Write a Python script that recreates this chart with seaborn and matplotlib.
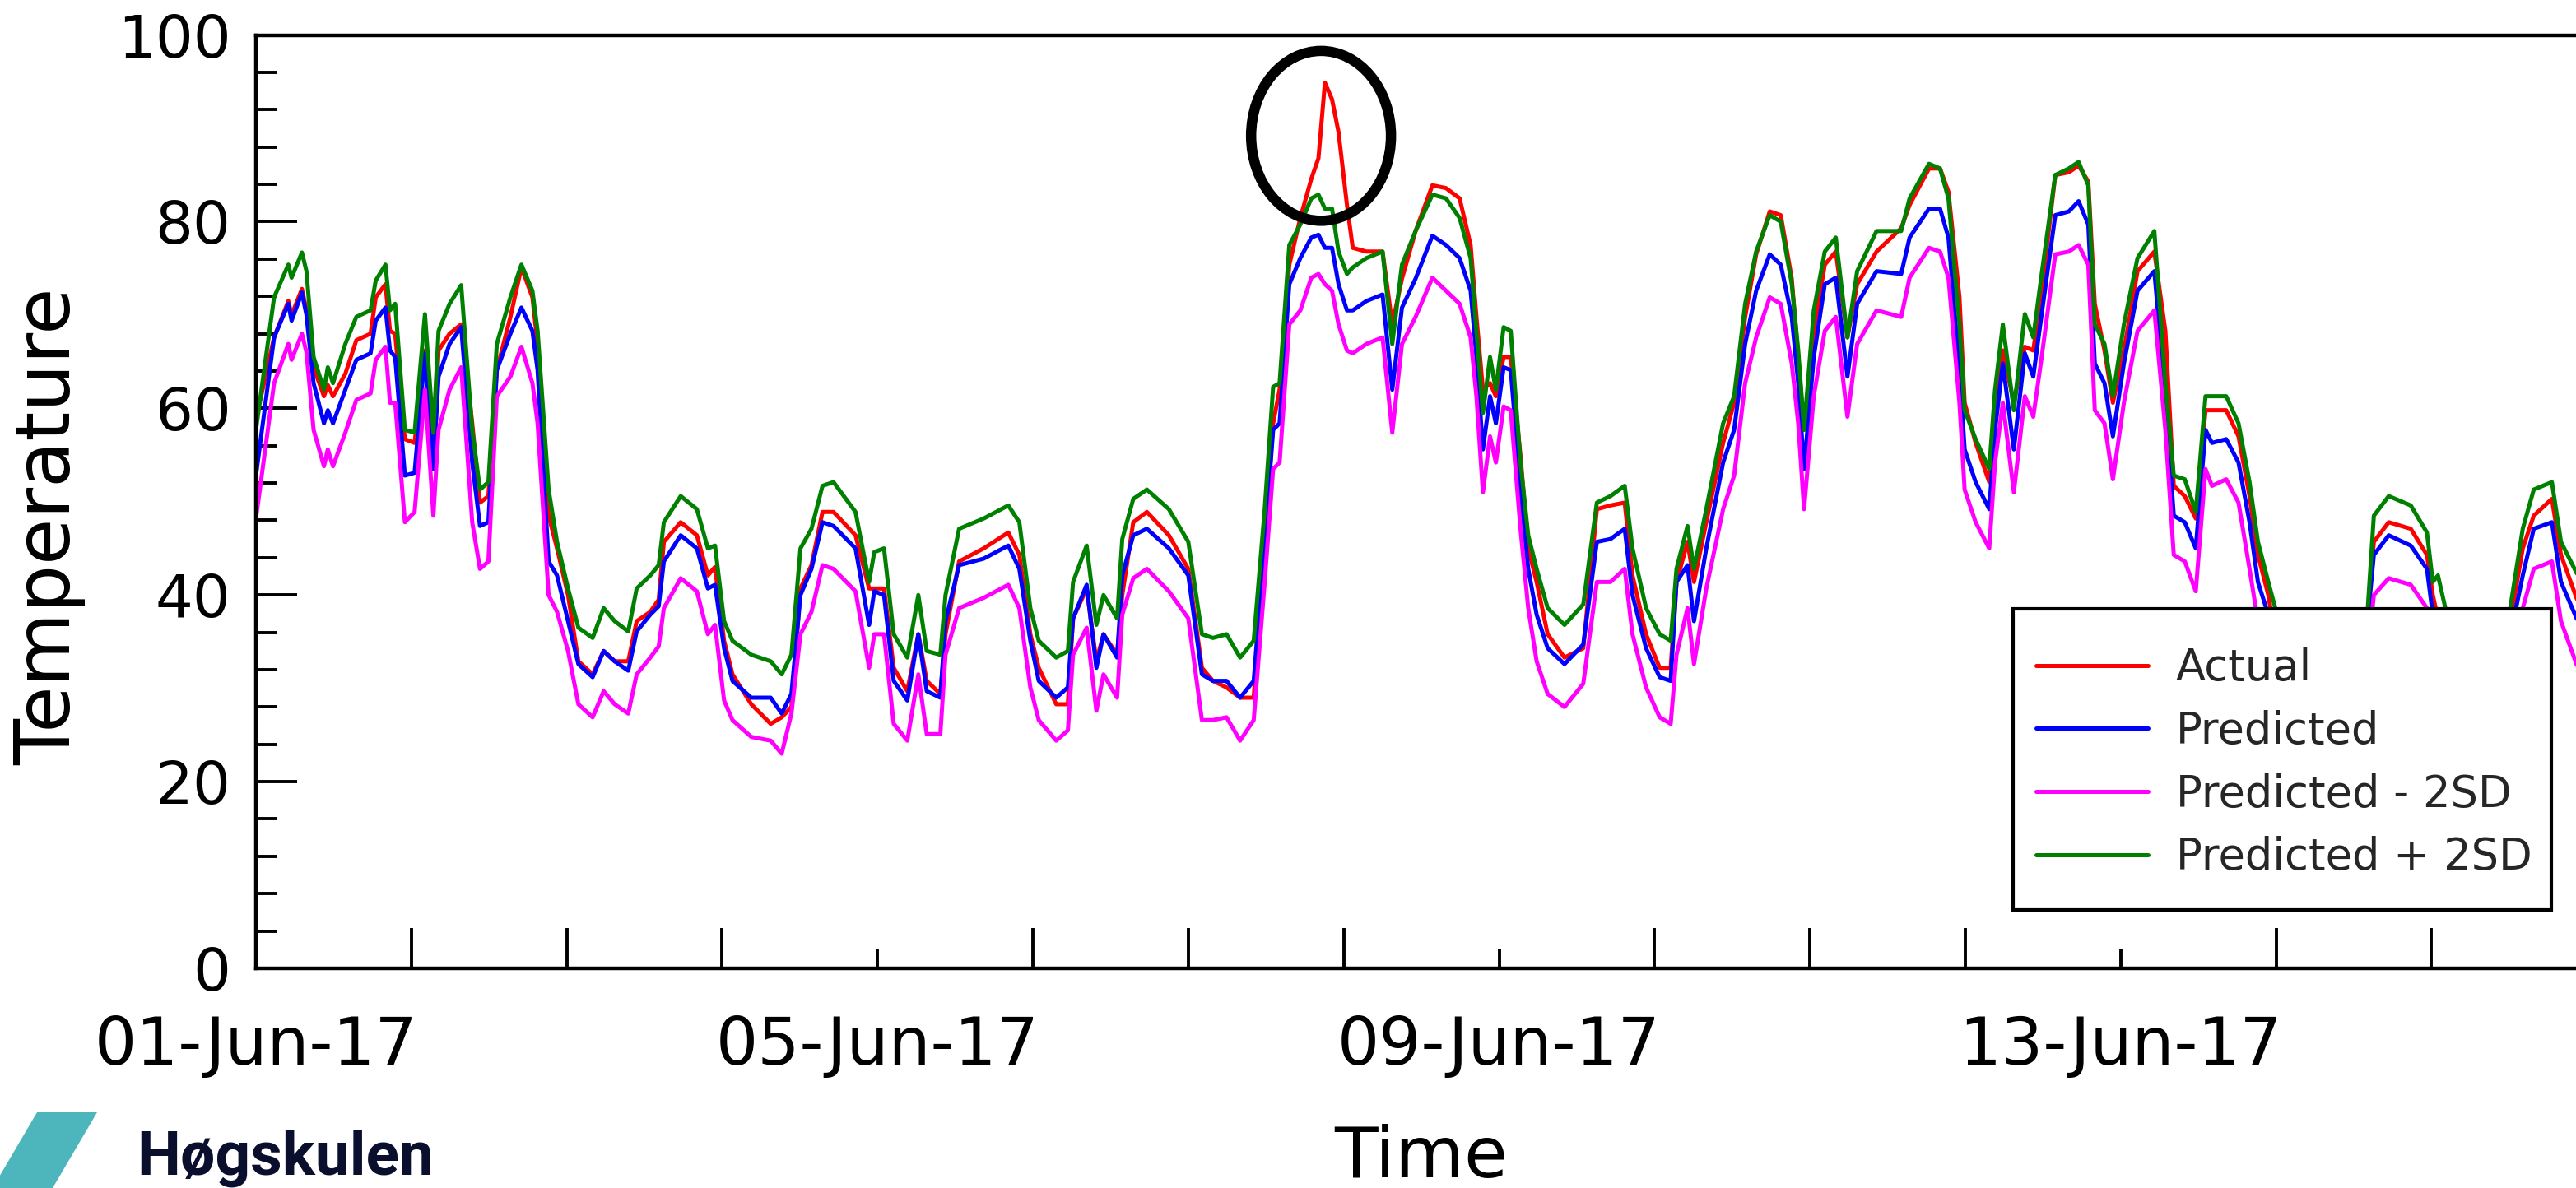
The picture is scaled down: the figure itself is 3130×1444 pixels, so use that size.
import pandas as pd
import matplotlib
matplotlib.use("Agg")
import matplotlib.pyplot as plt
import matplotlib.dates as mdates
from matplotlib.patches import Ellipse, Polygon, Rectangle
from matplotlib.ticker import MultipleLocator
import seaborn as sns

# ======================
# Data (hours since 01-Jun-17 00:00)
# ======================
hours = [
    0.0, 2.8, 5.0, 5.5, 7.1, 7.8, 8.9, 10.5, 11.1, 11.9,
    13.8, 15.5, 17.7, 18.5, 20.0, 20.7, 21.5, 23.0, 24.5, 26.1,
    27.4, 28.2, 29.9, 31.7, 33.4, 34.6, 35.9, 37.2, 39.3, 41.0,
    42.7, 43.5, 45.2, 46.5, 48.2, 49.8, 52.0, 53.7, 55.4, 57.5,
    58.8, 60.9, 62.2, 63.0, 65.6, 68.1, 69.8, 70.9, 72.3, 73.6,
    76.5, 79.5, 81.2, 82.7, 84.1, 85.8, 87.5, 89.2, 92.6, 94.7,
    95.5, 97.0, 98.5, 100.6, 102.3, 103.6, 105.7, 106.5, 108.6, 112.4,
    116.2, 117.9, 119.6, 120.9, 123.6, 125.4, 126.2, 128.3, 129.8, 130.9,
    133.0, 133.8, 135.5, 137.6, 141.0, 144.0, 146.1, 147.8, 149.9, 152.0,
    154.1, 155.8, 157.1, 158.1, 159.6, 161.3, 163.0, 164.1, 165.1, 166.2,
    167.2, 168.5, 169.4, 171.5, 174.0, 175.5, 177.0, 179.1, 181.7, 183.8,
    185.9, 187.6, 188.5, 189.5, 190.6, 191.5, 192.7, 193.8, 195.3, 196.5,
    197.8, 199.5, 202.1, 205.0, 207.1, 209.2, 211.4, 212.6, 214.7, 216.8,
    218.5, 219.4, 221.1, 222.1, 224.0, 226.6, 228.3, 230.0, 231.7, 233.8,
    235.5, 237.2, 238.2, 239.1, 240.6, 242.3, 244.0, 245.8, 247.3, 250.3,
    254.1, 255.4, 258.4, 260.1, 261.4, 263.1, 263.9, 265.6, 267.7, 268.6,
    269.8, 271.5, 273.2, 274.5, 275.8, 277.9, 280.0, 281.5, 283.0, 284.0,
    285.5, 286.8, 288.5, 290.6, 293.2, 294.9, 296.2, 297.9, 299.6, 301.1,
    302.1, 304.3, 306.2, 307.9, 309.2, 310.8, 312.5, 316.0, 320.0, 324.5,
    326.1, 327.1, 329.4, 332.8, 335.3, 336.2, 337.0, 339.0, 343.0, 346.5,
    348.0, 350.1, 351.8, 354.6, 356.0, 358.6,
]

actual = [
    58.8, 67.6, 71.5, 70.0, 72.8, 70.5, 64.4, 61.3, 62.5, 61.3,
    63.7, 67.3, 68.0, 71.9, 73.3, 68.3, 68.0, 56.7, 56.3, 66.2,
    55.6, 66.2, 68.0, 69.0, 58.4, 49.9, 50.6, 64.1, 69.8, 75.1,
    71.9, 66.9, 48.5, 45.0, 40.0, 32.9, 31.5, 34.0, 32.9, 32.9,
    37.2, 38.2, 39.5, 45.7, 47.8, 46.4, 42.1, 43.0, 35.1, 31.5,
    28.3, 26.2, 26.9, 28.0, 40.7, 43.2, 48.9, 48.9, 46.4, 40.7,
    40.7, 40.7, 32.2, 29.7, 35.8, 30.8, 29.4, 35.8, 43.6, 45.0,
    46.7, 44.3, 35.8, 32.2, 28.3, 28.3, 37.5, 40.7, 32.9, 35.8,
    33.6, 40.0, 47.8, 48.9, 46.4, 42.8, 32.2, 30.8, 30.1, 29.0,
    29.0, 45.7, 58.4, 62.0, 75.4, 80.4, 84.6, 86.8, 94.9, 93.1,
    89.6, 81.8, 77.2, 76.8, 76.8, 69.0, 73.9, 79.0, 83.9, 83.6,
    82.5, 77.5, 69.8, 62.0, 62.7, 61.3, 65.5, 65.5, 54.9, 45.0,
    41.4, 35.8, 33.3, 34.3, 49.2, 49.6, 49.9, 42.1, 35.8, 32.2,
    32.2, 41.4, 45.7, 41.4, 47.8, 56.3, 60.6, 69.8, 76.5, 81.1,
    80.7, 73.9, 65.5, 57.7, 68.3, 75.4, 76.8, 67.6, 73.3, 76.8,
    79.3, 81.8, 85.7, 85.7, 83.2, 71.9, 60.6, 56.3, 52.1, 61.3,
    66.2, 60.6, 66.6, 66.2, 72.6, 85.0, 85.3, 86.0, 84.3, 71.2,
    66.2, 60.6, 66.2, 74.7, 76.8, 68.3, 51.7, 50.6, 48.2, 59.8,
    59.8, 59.8, 57.0, 50.6, 44.3, 40.0, 33.0, 30.0, 29.0, 30.0,
    37.2, 45.7, 47.8, 47.1, 44.3, 40.0, 37.5, 32.0, 30.0, 31.0,
    36.5, 45.0, 48.5, 50.3, 44.3, 39.3,
]

predicted = [
    52.8, 67.6, 71.2, 69.4, 72.4, 70.0, 62.7, 58.4, 59.8, 58.4,
    62.0, 65.2, 65.9, 69.4, 70.8, 66.2, 65.5, 52.8, 53.1, 65.9,
    53.5, 63.4, 66.9, 68.7, 54.2, 47.4, 47.8, 64.1, 68.0, 70.8,
    68.3, 64.1, 43.6, 42.1, 37.2, 32.6, 31.2, 34.0, 32.9, 31.9,
    36.1, 37.9, 38.8, 43.6, 46.4, 45.0, 40.7, 41.1, 34.3, 30.8,
    29.0, 29.0, 27.3, 29.4, 40.0, 42.8, 47.8, 47.4, 45.0, 36.8,
    40.4, 40.0, 30.8, 28.7, 35.8, 29.7, 29.0, 37.2, 43.2, 43.9,
    45.3, 42.8, 35.1, 30.8, 29.0, 30.1, 37.5, 41.1, 32.2, 35.8,
    33.3, 42.1, 46.4, 47.1, 45.0, 42.1, 31.5, 30.8, 30.8, 29.0,
    30.8, 45.7, 57.7, 58.4, 73.3, 76.1, 78.3, 78.6, 77.2, 77.2,
    73.3, 70.5, 70.5, 71.5, 72.2, 62.0, 70.8, 73.9, 78.5, 77.5,
    76.1, 72.6, 65.5, 55.6, 61.3, 58.4, 64.4, 64.1, 51.3, 42.8,
    37.9, 34.3, 32.6, 34.7, 45.7, 46.0, 47.1, 40.0, 34.3, 31.2,
    30.8, 41.4, 43.2, 37.2, 45.0, 54.2, 57.7, 66.9, 72.6, 76.5,
    75.4, 69.8, 62.7, 53.5, 65.5, 73.3, 74.0, 63.4, 71.2, 74.7,
    74.4, 78.3, 81.4, 81.4, 78.3, 64.1, 55.6, 52.1, 49.2, 57.7,
    64.8, 55.6, 65.9, 63.4, 70.1, 80.7, 81.1, 82.2, 79.7, 64.8,
    62.7, 57.0, 64.8, 72.6, 74.7, 61.3, 48.5, 47.8, 45.0, 57.7,
    56.3, 56.7, 54.2, 47.8, 41.4, 37.9, 32.0, 30.0, 29.5, 30.0,
    37.0, 44.3, 46.4, 45.3, 42.8, 37.9, 37.0, 31.0, 30.0, 31.0,
    35.0, 42.1, 47.1, 47.8, 41.4, 37.2,
]

pred_minus_2sd = [
    48.2, 62.7, 66.9, 65.2, 68.0, 66.0, 57.7, 53.8, 55.6, 53.8,
    57.4, 60.9, 61.6, 65.2, 66.6, 60.6, 60.6, 47.8, 48.9, 62.0,
    48.5, 57.7, 62.0, 64.4, 47.8, 42.8, 43.6, 61.3, 63.4, 66.6,
    62.7, 58.4, 40.0, 38.2, 34.0, 28.3, 26.9, 29.7, 28.3, 27.3,
    31.5, 33.3, 34.5, 38.6, 41.8, 40.4, 35.8, 36.8, 28.7, 26.6,
    24.8, 24.4, 23.0, 27.3, 35.8, 38.2, 43.2, 42.8, 40.4, 32.2,
    35.8, 35.8, 26.2, 24.4, 31.5, 25.1, 25.1, 33.6, 38.6, 39.7,
    41.1, 38.6, 30.1, 26.6, 24.4, 25.5, 33.6, 36.5, 27.6, 31.5,
    29.0, 37.9, 41.8, 42.8, 40.4, 37.5, 26.6, 26.6, 26.9, 24.4,
    26.6, 41.4, 53.5, 54.2, 69.0, 70.5, 74.0, 74.4, 73.3, 72.6,
    69.0, 66.2, 65.9, 66.9, 67.6, 57.4, 66.9, 69.8, 74.0, 72.6,
    71.2, 67.6, 61.3, 51.0, 57.0, 54.2, 60.2, 59.8, 47.1, 38.6,
    32.9, 29.4, 28.0, 30.5, 41.4, 41.4, 42.8, 35.8, 30.1, 26.9,
    26.2, 33.6, 38.6, 32.6, 40.7, 49.2, 52.8, 62.7, 67.6, 71.9,
    71.2, 64.8, 58.4, 49.2, 61.3, 68.3, 69.8, 59.1, 66.9, 70.5,
    69.8, 74.0, 77.2, 76.8, 74.0, 60.6, 51.3, 47.8, 45.0, 54.2,
    60.6, 51.0, 61.3, 59.1, 65.5, 76.5, 76.8, 77.5, 75.4, 59.8,
    58.4, 52.4, 60.6, 68.3, 70.5, 57.7, 44.3, 43.6, 40.4, 53.5,
    51.7, 52.4, 49.9, 42.8, 37.2, 34.3, 28.0, 26.0, 25.5, 26.0,
    33.0, 40.0, 41.8, 41.1, 38.6, 36.5, 33.0, 27.0, 26.0, 27.0,
    31.0, 38.6, 42.8, 43.6, 37.2, 32.2,
]

pred_plus_2sd = [
    57.7, 71.9, 75.4, 74.0, 76.7, 74.7, 65.5, 62.0, 64.4, 62.7,
    66.9, 69.8, 70.5, 73.7, 75.4, 70.5, 71.2, 57.7, 57.4, 70.1,
    57.4, 68.3, 71.2, 73.2, 57.7, 51.3, 52.1, 66.9, 71.9, 75.4,
    72.6, 68.3, 51.3, 45.7, 40.7, 36.5, 35.4, 38.6, 37.2, 36.1,
    40.7, 42.1, 43.2, 47.8, 50.6, 49.2, 45.0, 45.3, 37.2, 35.1,
    33.6, 32.9, 31.5, 33.6, 45.0, 47.1, 51.7, 52.1, 48.9, 41.4,
    44.6, 45.0, 35.8, 33.3, 40.0, 34.0, 33.6, 40.0, 47.1, 48.2,
    49.6, 47.8, 38.6, 35.1, 33.3, 34.0, 41.4, 45.3, 36.8, 40.0,
    37.5, 46.0, 50.3, 51.3, 49.2, 45.7, 35.8, 35.4, 35.8, 33.3,
    35.1, 49.2, 62.3, 62.7, 77.5, 79.7, 82.5, 82.9, 81.4, 81.4,
    76.8, 74.4, 75.1, 76.1, 76.8, 66.9, 75.4, 79.0, 82.9, 82.5,
    80.4, 76.1, 68.3, 59.5, 65.5, 62.0, 68.7, 68.3, 54.2, 46.4,
    42.8, 38.6, 36.8, 39.0, 49.9, 50.6, 51.7, 45.0, 38.6, 35.8,
    35.1, 42.8, 47.4, 42.8, 49.2, 58.4, 61.3, 71.2, 76.8, 80.7,
    80.0, 73.3, 66.2, 57.7, 70.5, 76.8, 78.3, 67.6, 74.7, 79.0,
    79.0, 82.5, 86.2, 85.7, 82.5, 69.0, 59.8, 56.7, 53.5, 62.0,
    69.0, 59.8, 70.1, 67.6, 74.4, 85.0, 85.7, 86.4, 83.9, 69.0,
    66.9, 61.3, 69.0, 76.1, 79.0, 62.7, 52.8, 52.4, 48.9, 61.3,
    61.3, 61.3, 58.4, 52.1, 45.7, 41.4, 37.0, 34.0, 33.5, 34.5,
    37.9, 48.5, 50.6, 49.6, 46.7, 41.4, 42.1, 36.0, 34.0, 35.5,
    37.9, 47.1, 51.3, 52.1, 45.7, 42.1,
]

series_names = ["Actual", "Predicted", "Predicted - 2SD", "Predicted + 2SD"]
series_colors = ["#ff0000", "#0000ff", "#ff00ff", "#008000"]

start = pd.Timestamp("2017-06-01")
end = pd.Timestamp("2017-06-17")

# spike annotation (hours, temperature)
spike_hour, spike_temp = 164.5, 89.2
spike_w_hours, spike_h_temp = 21.6, 18.2

# ======================
# Long-form table for seaborn
# ======================
wide = pd.DataFrame({
    "Time": start + pd.to_timedelta(hours, unit="h"),
    "Actual": actual,
    "Predicted": predicted,
    "Predicted - 2SD": pred_minus_2sd,
    "Predicted + 2SD": pred_plus_2sd,
})
long = wide.melt(id_vars="Time", var_name="series", value_name="Temperature")

sns.set_theme(style="white")
plt.rcParams["font.family"] = ["DejaVu Sans"]

W, H = 3130, 1444
fig = plt.figure(figsize=(W / 100, H / 100), dpi=100)
ax = fig.add_axes([311 / W, 1 - 1177 / H, 3021 / W, (1177 - 42.6) / H])

sns.lineplot(data=long, x="Time", y="Temperature", hue="series",
             hue_order=series_names, palette=series_colors,
             estimator=None, linewidth=3.6, ax=ax)

ax.set_xlim(start, end)
ax.set_ylim(0, 100)

# ticks
ax.xaxis.set_major_locator(mdates.DayLocator(bymonthday=[1, 5, 9, 13]))
ax.xaxis.set_minor_locator(mdates.DayLocator())
ax.xaxis.set_major_formatter(mdates.DateFormatter("%d-%b-%y"))
ax.yaxis.set_major_locator(MultipleLocator(20))
ax.yaxis.set_minor_locator(MultipleLocator(4))

ax.tick_params(axis="both", which="both", direction="in", colors="black",
               width=2.8, bottom=True, left=True, top=False, right=False)
ax.tick_params(axis="y", which="major", length=36, labelsize=52, pad=22)
ax.tick_params(axis="y", which="minor", length=19)
ax.tick_params(axis="x", which="major", length=17, labelsize=58, pad=40)
ax.tick_params(axis="x", which="minor", length=35)

for sp in ax.spines.values():
    sp.set_color("black")
    sp.set_linewidth(3.2)

ax.set_xlabel("Time", fontsize=62, color="black")
ax.set_ylabel("Temperature", fontsize=66, color="black")
ax.xaxis.set_label_coords(1727 / W, 1 - 1366 / H, transform=fig.transFigure)
ax.yaxis.set_label_coords(104 / W, 1 - 640 / H, transform=fig.transFigure)

# circle round the spike
x0 = mdates.date2num(start)
ax.add_patch(Ellipse((x0 + spike_hour / 24, spike_temp), spike_w_hours / 24,
                     spike_h_temp, fill=False, edgecolor="black", linewidth=9.0,
                     zorder=5))

# legend: white box drawn as a patch, entries placed inside it
box = Rectangle((2446 / W, 1 - 1106 / H), (3100 - 2446) / W, (1106 - 740) / H,
                transform=fig.transFigure, facecolor="white", edgecolor="black",
                linewidth=3.0, zorder=6)
ax.add_patch(box)
box.set_clip_on(False)

handles, labels = ax.get_legend_handles_labels()
leg = ax.legend(handles, labels, loc="upper left",
                bbox_to_anchor=(2474 / W, 1 - 786 / H),
                bbox_transform=fig.transFigure, fontsize=38, frameon=False,
                handlelength=2.58, handletextpad=0.64, labelspacing=0.47,
                borderpad=0, borderaxespad=0)
leg.set_zorder(7)
for ln in leg.get_lines():
    ln.set_linewidth(3.6)

# logo at the bottom left
fig.add_artist(Polygon([[45 / W, 1 - 1352 / H], [118 / W, 1 - 1352 / H],
                        [64 / W, 0.0], [-9 / W, 0.0]], closed=True,
                       transform=fig.transFigure, facecolor="#4db6bc",
                       edgecolor="none"))
fig.text(166 / W, 1 - 1428 / H, "Høgskulen", family=["Roboto", "DejaVu Sans"],
         fontweight="bold", fontsize=54, color="#0b0f2e", va="baseline")

fig.savefig("out.png", dpi=100)
